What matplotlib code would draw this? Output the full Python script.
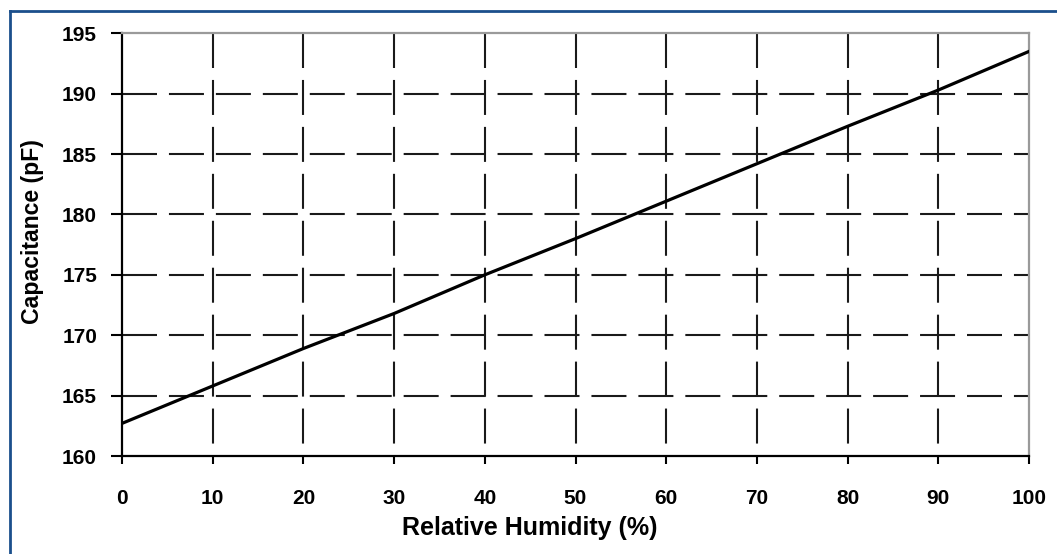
import matplotlib
matplotlib.use("Agg")
import matplotlib.pyplot as plt
from matplotlib.lines import Line2D

plt.rcParams['font.family'] = ['Liberation Sans', 'DejaVu Sans']
plt.rcParams['lines.scale_dashes'] = False

humidity = [0, 10, 20, 30, 40, 50, 60, 70, 80, 90, 100]
capacitance = [162.7, 165.8, 168.9, 171.8, 175.0, 178.0, 181.1, 184.2, 187.3, 190.3, 193.5]
x_ticks = [0, 10, 20, 30, 40, 50, 60, 70, 80, 90, 100]
y_ticks = [160, 165, 170, 175, 180, 185, 190, 195]
x_label = "Relative Humidity (%)"
y_label = "Capacitance (pF)"

W, H = 1057, 554
fig = plt.figure(figsize=(W / 100, H / 100), dpi=100, facecolor='white')
L, R, T, B = 122, 1029, 33.3, 456
ax = fig.add_axes([L / W, 1 - B / H, (R - L) / W, (B - T) / H])
ax.set_xlim(x_ticks[0], x_ticks[-1])
ax.set_ylim(y_ticks[0], y_ticks[-1])

grid_kw = dict(colors='#1a1a1a', linewidth=1.5, linestyles=[(0, (25.2, 8.6))], zorder=1)
ax.hlines(y_ticks[1:-1], x_ticks[0], x_ticks[-1], **grid_kw)
ax.vlines(x_ticks[1:-1], y_ticks[-1], y_ticks[0], **grid_kw)

ax.plot(humidity, capacitance, color='black', linewidth=2.3, zorder=3)

ax.set_xticks(x_ticks)
ax.set_yticks(y_ticks)
ax.set_xticklabels([str(v) for v in x_ticks], fontsize=15, fontweight='bold')
ax.set_yticklabels([str(v) for v in y_ticks], fontsize=15, fontweight='bold')
ax.tick_params(axis='x', direction='out', length=6, width=1.5, color='black', pad=18)
ax.tick_params(axis='y', direction='out', length=8, width=1.5, color='black', pad=10)
for s in ('left', 'bottom'):
    ax.spines[s].set_color('black')
    ax.spines[s].set_linewidth(1.6)
for s in ('top', 'right'):
    ax.spines[s].set_color('#9a9a9a')
    ax.spines[s].set_linewidth(1.6)

fig.text(530 / W, 1 - 528 / H, x_label, ha='center', va='center', fontsize=18, fontweight='bold')
fig.text(33 / W, 1 - 231.5 / H, y_label, ha='center', va='center', rotation=90, fontsize=16.6, fontweight='bold')

border = '#1b4f8c'
fig.add_artist(Line2D([9.5 / W, 1], [1 - 10.5 / H, 1 - 10.5 / H], color=border, linewidth=2.0, transform=fig.transFigure))
fig.add_artist(Line2D([9.5 / W, 9.5 / W], [0, 1 - 10.5 / H], color=border, linewidth=2.0, transform=fig.transFigure))

fig.savefig('out.png', dpi=100, facecolor='white')
